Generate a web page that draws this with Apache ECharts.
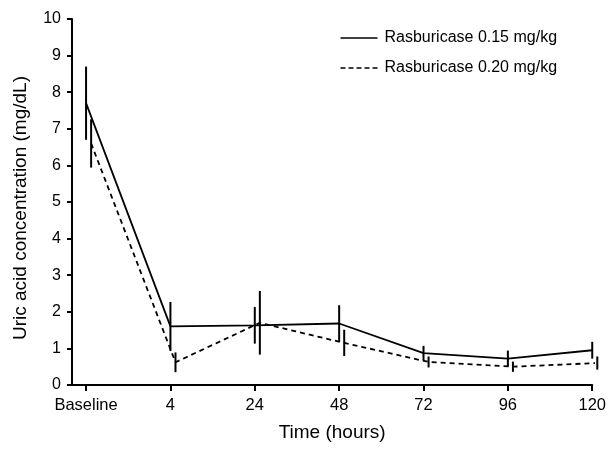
<!DOCTYPE html>
<html><head><meta charset="utf-8">
<script src="https://cdn.jsdelivr.net/npm/echarts@6/dist/echarts.min.js"></script>
<style>html,body{margin:0;padding:0;background:#fff}#c{width:609px;height:449px}</style>
</head><body><div id="c"></div>
<script>
const categories = ['Baseline', '4', '24', '48', '72', '96', '120'];
const yTicks = [0,1,2,3,4,5,6,7,8,9,10];
const seriesNames = ['Rasburicase 0.15 mg/kg', 'Rasburicase 0.20 mg/kg'];
const mean015 = [7.7, 1.6, 1.63, 1.68, 0.87, 0.72, 0.95];
const err015  = [1.0, 0.67, 0.5, 0.5, 0.2, 0.22, 0.23];
const mean020 = [6.6, 0.62, 1.7, 1.15, 0.63, 0.5, 0.6];
const err020  = [0.66, 0.27, 0.87, 0.36, 0.15, 0.14, 0.18];

const dodge = [0, 0.06];
const FONT = 'Liberation Sans, Arial, sans-serif';

function lineData(means, d){ return means.map((v,i)=>[i+d, v]); }
function errData(means, errs, d){ return means.map((v,i)=>[i+d, v-errs[i], v+errs[i]]); }

function errRender(params, api){
  const x = api.value(0);
  const lo = api.coord([x, api.value(1)]);
  const hi = api.coord([x, api.value(2)]);
  return {type:'line', shape:{x1:lo[0], y1:lo[1], x2:hi[0], y2:hi[1]},
          style:{stroke:'#000', lineWidth:2}};
}

const legendItems = seriesNames.map((n,i)=>({
  type:'group', left:338, top:30 + i*30,
  children:[
    {type:'line', shape:{x1:0, y1:8, x2:37, y2:8},
     style:{stroke:'#000', lineWidth:1.4, lineDash: i===0 ? null : [5,3]}},
    {type:'text', x:44, y:8, style:{text:n, font:'16px Liberation Sans, Arial, sans-serif',
      fill:'#000', verticalAlign:'middle'}}
  ]
}));

const chart = echarts.init(document.getElementById('c'), null, {renderer:'canvas'});
chart.setOption({
  animation:false,
  backgroundColor:'#fff',
  textStyle:{fontFamily:FONT, color:'#000'},
  grid:{left:72, right:16, top:19, bottom:64, containLabel:false},
  graphic: legendItems,
  xAxis:{
    type:'value', min:-1/6, max:6,
    name:'Time (hours)', nameLocation:'middle', nameGap:38,
    nameTextStyle:{fontFamily:FONT, fontSize:19, color:'#000'},
    axisLine:{show:true, onZero:false, lineStyle:{color:'#000', width:2}},
    axisTick:{show:true, inside:false, length:6, lineStyle:{color:'#000', width:2},
              customValues:categories.map((c,i)=>i)},
    axisLabel:{show:true, margin:12, fontFamily:FONT, fontSize:16.5, color:'#000',
               customValues:categories.map((c,i)=>i),
               formatter:(v)=>categories[Math.round(v)] ?? ''},
    splitLine:{show:false}
  },
  yAxis:{
    type:'value', min:0, max:10, interval:1,
    name:'Uric acid concentration (mg/dL)', nameLocation:'middle', nameGap:42,
    nameRotate:90,
    nameTextStyle:{fontFamily:FONT, fontSize:19, color:'#000', padding:[0,0,0,-12]},
    axisLine:{show:true, onZero:false, lineStyle:{color:'#000', width:2}},
    axisTick:{show:true, inside:false, length:5, lineStyle:{color:'#000', width:2}},
    axisLabel:{margin:11, fontFamily:FONT, fontSize:16, color:'#000',
               formatter:(v)=>yTicks.includes(v)?String(v):''},
    splitLine:{show:false}
  },
  series:[
    {name:seriesNames[0], type:'line', data:lineData(mean015, dodge[0]), symbol:'none',
     lineStyle:{color:'#000', width:1.8, type:'solid'}, itemStyle:{color:'#000'}, z:3},
    {name:seriesNames[1], type:'line', data:lineData(mean020, dodge[1]), symbol:'none',
     lineStyle:{color:'#000', width:1.8, type:[5,4]}, itemStyle:{color:'#000'}, z:3},
    {type:'custom', data:errData(mean015, err015, dodge[0]), renderItem:errRender,
     encode:{x:0, y:[1,2]}, z:4},
    {type:'custom', data:errData(mean020, err020, dodge[1]), renderItem:errRender,
     encode:{x:0, y:[1,2]}, z:4}
  ]
});
</script></body></html>
